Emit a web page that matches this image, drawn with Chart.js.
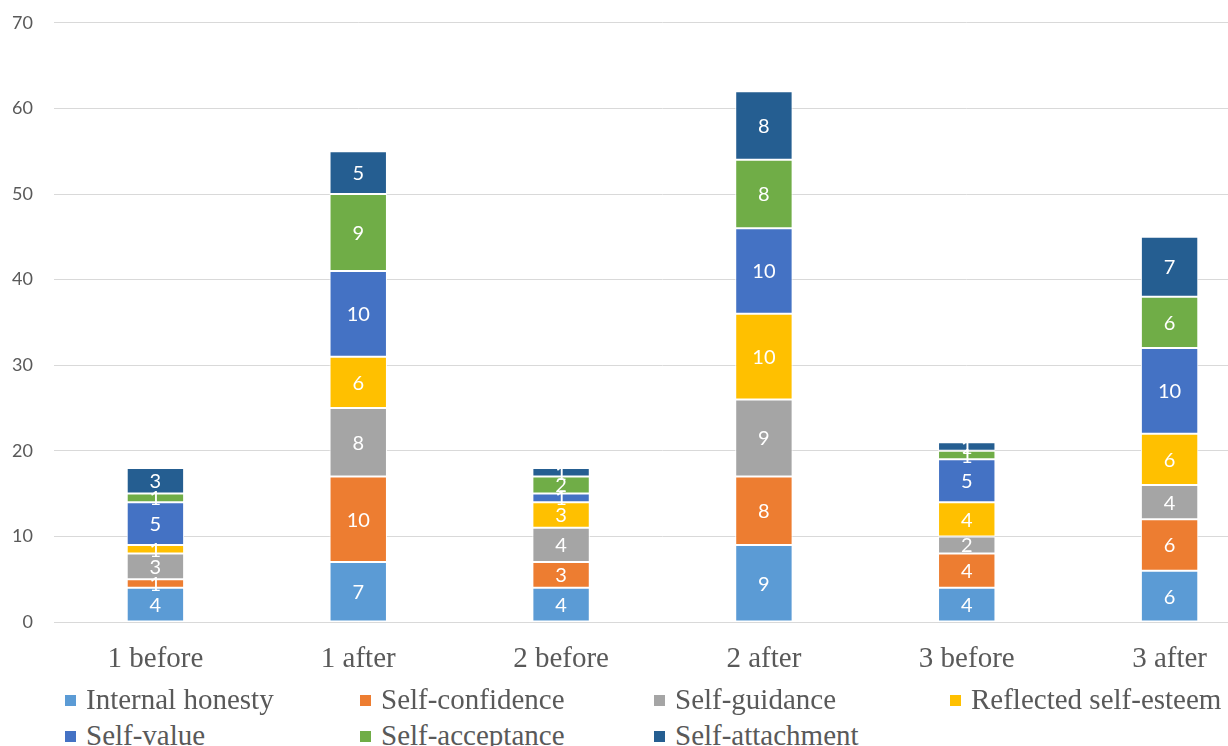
<!DOCTYPE html>
<html>
<head>
<meta charset="utf-8">
<script src="https://cdn.jsdelivr.net/npm/chart.js@4"></script>
<style>
  html, body { margin: 0; padding: 0; background: #fff; overflow: hidden; }
  #wrap { position: relative; width: 1228px; height: 746px; overflow: hidden; }
  #chart { position: absolute; left: 0; top: -9px; }
  .leg { position: absolute; font: 29px "Liberation Serif", serif; color: #595959; white-space: nowrap; line-height: 32px; }
  .leg i { display: inline-block; width: 11px; height: 11px; margin-right: 10px; vertical-align: 3px; }
</style>
</head>
<body>
<div id="wrap">
  <canvas id="chart" width="1280" height="699"></canvas>
  <div id="legend"></div>
</div>
<script>
const categories = ['1 before', '1 after', '2 before', '2 after', '3 before', '3 after'];
const seriesNames = ['Internal honesty', 'Self-confidence', 'Self-guidance', 'Reflected self-esteem', 'Self-value', 'Self-acceptance', 'Self-attachment'];
const internalHonesty = [4, 7, 4, 9, 4, 6];
const selfConfidence = [1, 10, 3, 8, 4, 6];
const selfGuidance = [3, 8, 4, 9, 2, 4];
const reflectedSelfEsteem = [1, 6, 3, 10, 4, 6];
const selfValue = [5, 10, 1, 10, 5, 10];
const selfAcceptance = [1, 9, 2, 8, 1, 6];
const selfAttachment = [3, 5, 1, 8, 1, 7];
const colors = ['#5B9BD5', '#ED7D31', '#A5A5A5', '#FFC000', '#4472C4', '#70AD47', '#255E91'];

const allValues = [internalHonesty, selfConfidence, selfGuidance, reflectedSelfEsteem, selfValue, selfAcceptance, selfAttachment];

// white numbers in the middle of each segment
const segmentLabels = {
  id: 'segmentLabels',
  afterDatasetsDraw(chart) {
    const ctx = chart.ctx;
    ctx.save();
    ctx.fillStyle = '#fff';
    ctx.font = '20px Lato, sans-serif';
    ctx.textAlign = 'center';
    ctx.textBaseline = 'middle';
    chart.data.datasets.forEach((ds, i) => {
      chart.getDatasetMeta(i).data.forEach((bar, j) => {
        const p = bar.getCenterPoint();
        ctx.fillText(String(ds.data[j]), p.x, p.y + 1);
      });
    });
    ctx.restore();
  }
};

new Chart(document.getElementById('chart').getContext('2d'), {
  type: 'bar',
  data: {
    labels: categories,
    datasets: seriesNames.map((name, i) => ({
      label: name,
      data: allValues[i],
      backgroundColor: colors[i],
      borderColor: '#ffffff',
      borderWidth: 1,
      borderSkipped: false,
      categoryPercentage: 1,
      barPercentage: 0.283
    }))
  },
  options: {
    responsive: false,
    animation: false,
    layout: { padding: { top: 14, right: 9, left: 0, bottom: 0 } },
    plugins: {
      legend: { display: false },
      tooltip: { enabled: false }
    },
    scales: {
      x: {
        stacked: true,
        grid: { display: false, drawTicks: false },
        border: { color: '#d9d9d9' },
        ticks: { color: '#595959', font: { family: 'Liberation Serif', size: 29 }, padding: 20 },
        afterFit(scale) { scale.height = 68; }
      },
      y: {
        stacked: true,
        min: 0,
        max: 70,
        ticks: { stepSize: 10, color: '#595959', font: { family: 'Lato', size: 18 }, padding: 21 },
        grid: { color: '#d9d9d9', drawTicks: false },
        border: { display: false },
        afterFit(scale) { scale.width = 54; }
      }
    }
  },
  plugins: [segmentLabels]
});

// legend laid out like the original (two rows, fixed columns)
const legendPos = [[65, 683], [360, 683], [654, 683], [950, 683], [65, 719], [360, 719], [654, 719]];
const legendEl = document.getElementById('legend');
seriesNames.forEach((name, i) => {
  const d = document.createElement('div');
  d.className = 'leg';
  d.style.left = legendPos[i][0] + 'px';
  d.style.top = legendPos[i][1] + 'px';
  d.innerHTML = '<i style="background:' + colors[i] + '"></i>' + name;
  legendEl.appendChild(d);
});
</script>
</body>
</html>
